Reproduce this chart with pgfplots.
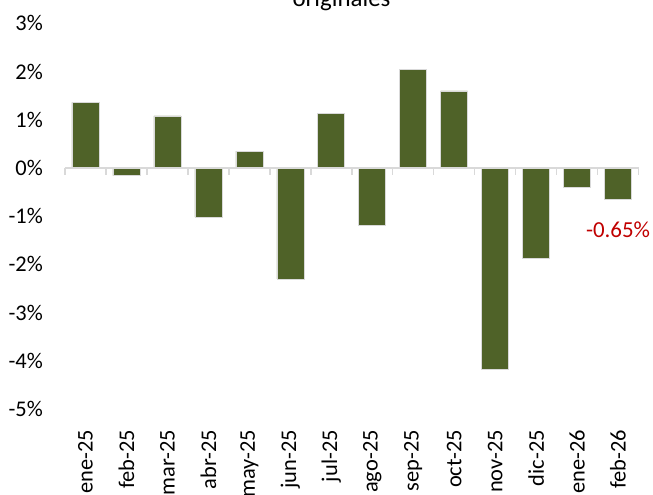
\documentclass[border=0pt]{standalone}
\usepackage{fontspec}
\setmainfont{Carlito}
\usepackage{pgfplots}
\pgfplotsset{compat=1.18}
\definecolor{barc}{HTML}{4F6228}
\definecolor{axc}{HTML}{D9D9D9}
\definecolor{redc}{HTML}{C00000}
\begin{document}
\begin{tikzpicture}
\begin{axis}[
  at={(0,0)}, anchor=south west,
  scale only axis, width=573.5bp, height=385.6bp,
  xmin=-0.5, xmax=13.5, ymin=-5, ymax=3,
  axis line style={draw=none},
  major tick length=0pt,
  xtick={0,...,13},
  xticklabels={ene-25,feb-25,mar-25,abr-25,may-25,jun-25,jul-25,ago-25,sep-25,oct-25,nov-25,dic-25,ene-26,feb-26},
  ytick={-5,-4,-3,-2,-1,0,1,2,3},
  yticklabels={-5\%,-4\%,-3\%,-2\%,-1\%,0\%,1\%,2\%,3\%},
  /pgf/number format/assume math mode=true,
  tick label style={font=\fontsize{22.5}{27}\selectfont},
  xticklabel style={yshift=-21bp, rotate=90, anchor=east, inner sep=0pt},
  yticklabel style={anchor=east, inner sep=0pt, xshift=-22bp},
  ybar, bar width=27bp,
  clip=false,
]
\addplot[fill=barc, draw=axc, line width=0.6bp] coordinates {
  (0,1.36) (1,-0.16) (2,1.08) (3,-1.02) (4,0.35) (5,-2.30) (6,1.14)
  (7,-1.18) (8,2.05) (9,1.60) (10,-4.17) (11,-1.87) (12,-0.39) (13,-0.65)
};
\draw[axc, line width=1.5bp] (axis cs:-0.5,0) -- (axis cs:13.5,0);
\pgfplotsinvokeforeach{-0.5,0.5,1.5,2.5,3.5,4.5,5.5,6.5,7.5,8.5,9.5,10.5,11.5,12.5,13.5}{
  \draw[axc, line width=1.5bp] (axis cs:#1,0) -- ([yshift=-7bp]axis cs:#1,0);
}
\node[text=redc, anchor=north, inner sep=0pt, yshift=-22bp,
      font=\fontsize{23}{28}\selectfont] at (axis cs:13,-0.65) {-0.65\%};
\end{axis}
\node[anchor=base, inner sep=0pt, font=\fontsize{25}{30}\selectfont] at (276.5bp,402.3bp) {originales};
\pgfresetboundingbox
\useasboundingbox (-65bp,-86bp) rectangle (588bp,409bp);
\end{tikzpicture}
\end{document}
